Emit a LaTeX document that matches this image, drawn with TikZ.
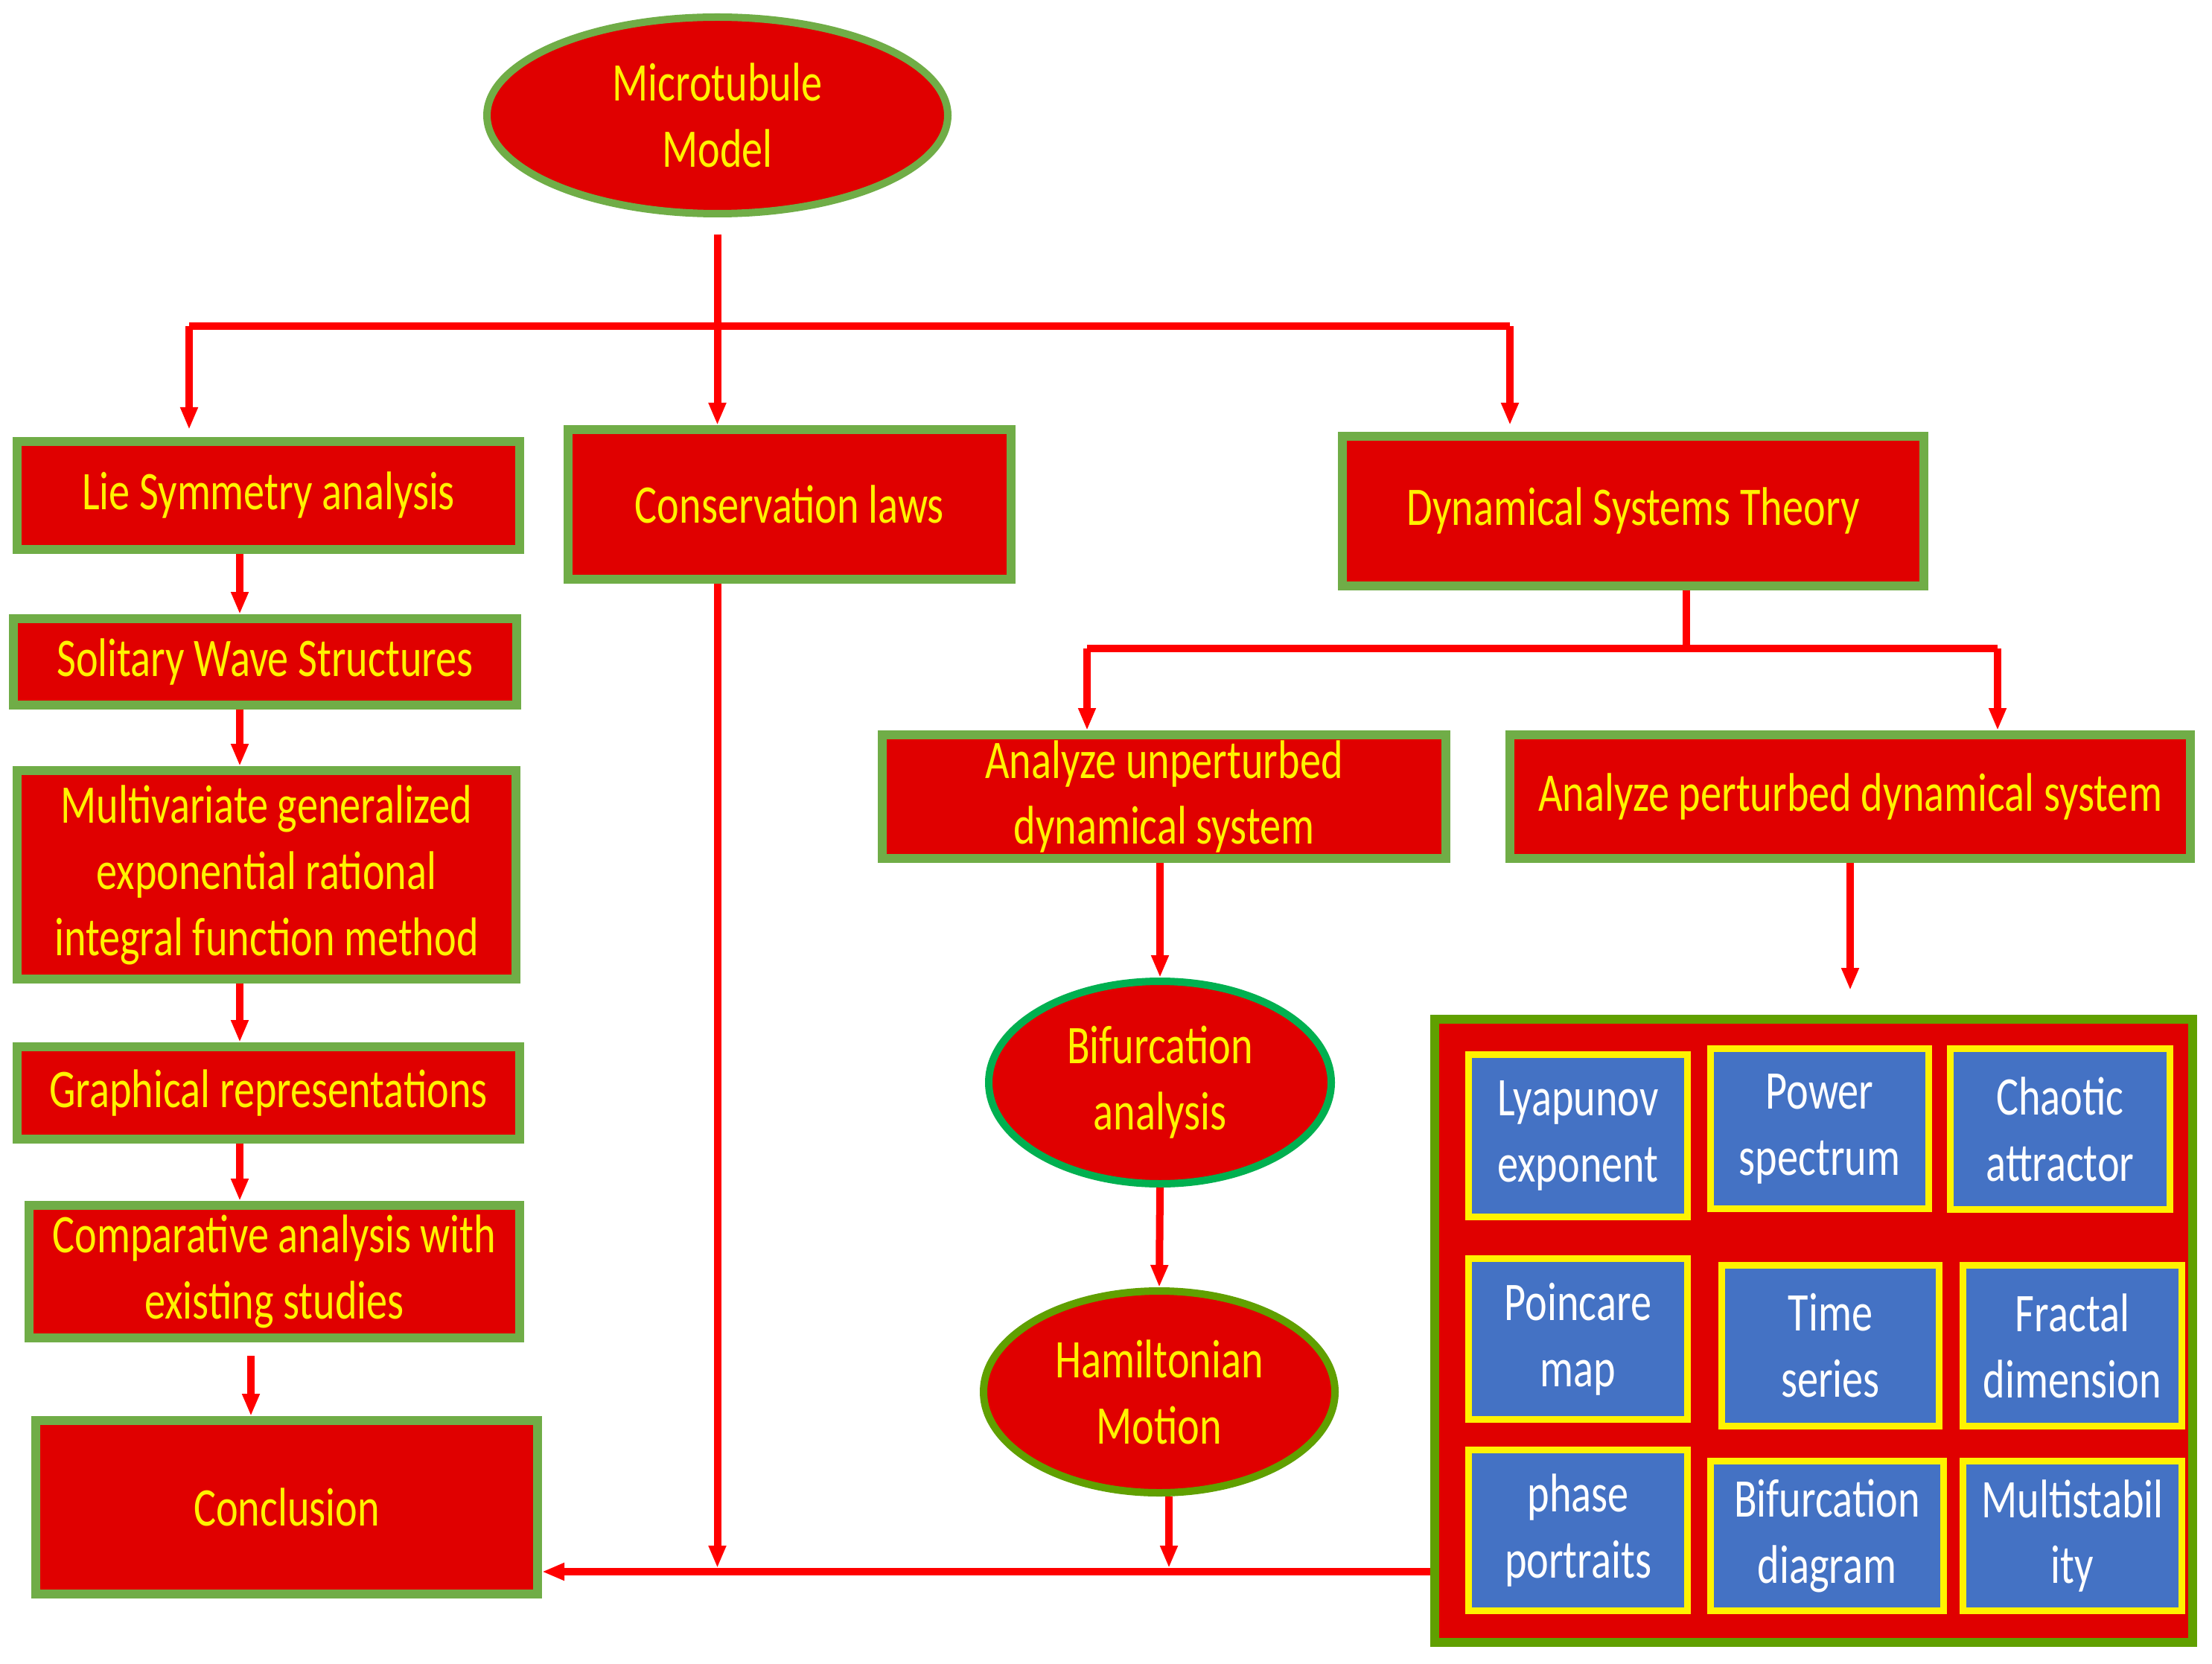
\documentclass[tikz,border=0pt]{standalone}
\usepackage{fontspec}
\setmainfont{Carlito}[FakeStretch=0.77]
\usetikzlibrary{shapes.geometric,arrows.meta}

\definecolor{boxred}{RGB}{224,0,0}
\definecolor{boxgreen}{RGB}{112,173,71}
\definecolor{darkgreen}{RGB}{96,160,0}
\definecolor{bifgreen}{RGB}{0,176,80}
\definecolor{tileblue}{RGB}{68,114,196}
\definecolor{linered}{RGB}{255,0,0}

\tikzset{
	labelfont/.style={font=\fontsize{20.8}{25.3}\selectfont},
	redbox/.style={draw=boxgreen,line width=0.12cm,fill=boxred,text=yellow,align=center,inner sep=0pt,labelfont},
	redoval/.style={ellipse,draw=boxgreen,line width=0.1cm,fill=boxred,text=yellow,align=center,inner sep=0pt,labelfont},
	tile/.style={draw=yellow,line width=0.09cm,fill=tileblue,text=white,align=center,inner sep=0pt,labelfont},
	link/.style={draw=linered,line width=0.1cm},
	linkarrow/.style={link,-{Triangle[length=0.3cm,width=0.22cm]}}
}

\begin{document}
\begin{tikzpicture}
	\useasboundingbox (0,0) rectangle (29.71,-22.35);

	\node [redoval,minimum width=6.19cm,minimum height=2.64cm] (model) at (9.635,-1.55) {Microtubule\\Model};

	\node [redbox,minimum width=6.75cm,minimum height=1.45cm] (lie) at (3.605,-6.655) {Lie Symmetry analysis};
	\node [redbox,minimum width=5.95cm,minimum height=2.01cm] (cons) at (10.605,-6.775) {Conservation laws};
	\node [redbox,minimum width=7.81cm,minimum height=2.01cm] (dyn) at (21.935,-6.865) {Dynamical Systems Theory};

	\node [redbox,minimum width=6.76cm,minimum height=1.16cm] (sol) at (3.56,-8.89) {Solitary Wave Structures};
	\node [redbox,minimum width=6.70cm,minimum height=2.80cm] (multi) at (3.58,-11.75) {Multivariate generalized\\exponential rational\\integral function method};
	\node [redbox,minimum width=6.75cm,minimum height=1.24cm] (graph) at (3.605,-14.68) {Graphical representations};
	\node [redbox,minimum width=6.59cm,minimum height=1.78cm] (comp) at (3.685,-17.08) {Comparative analysis with\\existing studies};
	\node [redbox,minimum width=6.74cm,minimum height=2.33cm] (concl) at (3.85,-20.245) {Conclusion};

	\node [redbox,minimum width=7.57cm,minimum height=1.66cm] (unpert) at (15.635,-10.70) {Analyze unperturbed\\dynamical system};
	\node [redbox,minimum width=9.14cm,minimum height=1.66cm] (pert) at (24.85,-10.70) {Analyze perturbed dynamical system};

	\node [redoval,draw=bifgreen,minimum width=4.60cm,minimum height=2.72cm] (bifan) at (15.58,-14.54) {Bifurcation\\analysis};
	\node [redoval,draw=darkgreen,minimum width=4.72cm,minimum height=2.71cm] (ham) at (15.57,-18.695) {Hamiltonian\\Motion};

	\node [draw=darkgreen,line width=0.12cm,fill=boxred,minimum width=10.18cm,minimum height=8.37cm] (big) at (24.36,-17.875) {};
	\node [tile,minimum width=2.94cm,minimum height=2.18cm] (lyap) at (21.195,-15.255) {Lyapunov\\exponent};
	\node [tile,minimum width=2.93cm,minimum height=2.15cm] (power) at (24.44,-15.16) {Power\\spectrum};
	\node [tile,minimum width=2.95cm,minimum height=2.16cm] (chaos) at (27.67,-15.165) {Chaotic\\attractor};
	\node [tile,minimum width=2.94cm,minimum height=2.16cm] (poinc) at (21.195,-17.985) {Poincare\\map};
	\node [tile,minimum width=2.92cm,minimum height=2.16cm] (time) at (24.585,-18.075) {Time\\series};
	\node [tile,minimum width=2.94cm,minimum height=2.16cm] (fract) at (27.835,-18.075) {Fractal\\dimension};
	\node [tile,minimum width=2.94cm,minimum height=2.16cm] (phase) at (21.195,-20.555) {phase\\portraits};
	\node [tile,minimum width=3.13cm,minimum height=2.01cm] (bifd) at (24.54,-20.63) {Bifurcation\\diagram};
	\node [tile,minimum width=2.94cm,minimum height=2.01cm] (mstab) at (27.835,-20.63) {Multistabil\\ity};

	\coordinate (barL) at (2.54,-4.38);
	\coordinate (barR) at (20.28,-4.38);
	\coordinate (dynbarL) at (14.60,-8.71);
	\coordinate (dynbarR) at (26.83,-8.71);
	\coordinate (dynstem) at (22.65,-8.71);
	\coordinate (chain) at (3.22,0);
	\coordinate (bus) at (0,-21.11);

	\draw [link,shorten <=0.23cm] (model.south) -- (model.south |- barL);
	\draw [link] (barL) -- (barR);
	\draw [linkarrow,shorten >=0.1cm] (barL) -- (barL |- lie.north);
	\draw [linkarrow] (model.south |- barL) -- (model.south |- cons.north);
	\draw [linkarrow,shorten >=0.09cm] (barR) -- (barR |- dyn.north);

	\draw [linkarrow] (lie.south -| chain) -- (sol.north -| chain);
	\draw [linkarrow] (sol.south -| chain) -- (multi.north -| chain);
	\draw [linkarrow] (multi.south -| chain) -- (graph.north -| chain);
	\draw [linkarrow] (graph.south -| chain) -- (comp.north -| chain);
	\draw [linkarrow,shorten <=0.18cm] ([xshift=0.15cm]comp.south -| chain) -- ([xshift=0.15cm]concl.north -| chain);

	\draw [link] (dyn.south -| dynstem) -- (dynstem);
	\draw [link] (dynbarL) -- (dynbarR);
	\draw [linkarrow] (dynbarL) -- (dynbarL |- unpert.north);
	\draw [linkarrow] (dynbarR) -- (dynbarR |- pert.north);

	\draw [linkarrow] (unpert.south -| bifan.north) -- (bifan.north);
	\draw [linkarrow] (bifan.south) -- (ham.north);
	\draw [linkarrow,shorten >=0.05cm] ([xshift=0.13cm]ham.south) -- ([xshift=0.13cm]ham.south |- bus);
	\draw [linkarrow,shorten >=0.33cm] (pert.south) -- (pert.south |- big.north);

	\draw [linkarrow,shorten >=0.05cm] (cons.south -| model.south) -- (model.south |- bus);
	\draw [linkarrow] (big.west |- bus) -- (concl.east |- bus);
\end{tikzpicture}
\end{document}
